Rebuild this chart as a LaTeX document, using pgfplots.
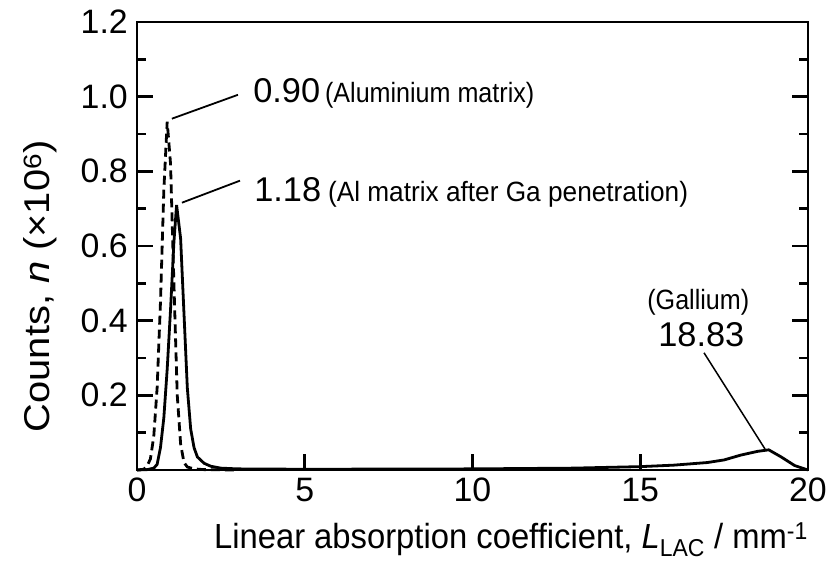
\documentclass[border=0pt]{standalone}
\usepackage{pgfplots}
\pgfplotsset{compat=1.18}
\usepackage{fontspec}
\setmainfont{Liberation Sans}
\begin{document}
\begin{tikzpicture}
\begin{axis}[
  scale only axis, width=671bp, height=448bp,
  xmin=0, xmax=20, ymin=0, ymax=1.2,
  axis line style={line width=2.7bp},
  every tick/.style={line width=2.7bp, black},
  tick align=inside,
  major tick length=16bp, minor tick length=9bp,
  xtick={0,5,10,15,20}, xtick pos=bottom,
  ytick={0.2,0.4,0.6,0.8,1.0,1.2}, ytick pos=both,
  minor ytick={0.1,0.3,0.5,0.7,0.9,1.1},
  yticklabel={\pgfmathprintnumber[fixed,fixed zerofill,precision=1]{\tick}},
  yticklabel style={anchor=east, inner sep=0pt, xshift=-9bp, font=\fontsize{34}{37}\selectfont},
  xticklabel style={anchor=north, inner sep=0pt, yshift=-8bp, font=\fontsize{34}{37}\selectfont},
  /pgf/number format/assume math mode=true,
  clip=false,
]
\coordinate (bl) at (rel axis cs:0,0);
\coordinate (tr) at (rel axis cs:1,1);
% Aluminium matrix (dashed)
\addplot[line width=2.8bp, dash pattern=on 9bp off 5bp, black] coordinates {
(0,0) (0.2,0.002) (0.3,0.01) (0.4,0.03) (0.5,0.09) (0.6,0.22) (0.7,0.45) (0.8,0.75) (0.9,0.933)
(1.0,0.82) (1.1,0.5) (1.2,0.2) (1.3,0.07) (1.4,0.02) (1.5,0.008) (1.7,0.003) (2.0,0.001) (3.0,0.0)
};
% Al matrix after Ga penetration (solid)
\addplot[line width=2.8bp, black] coordinates {
(0,0) (0.3,0.001) (0.5,0.005) (0.6,0.015) (0.7,0.06) (0.8,0.14) (0.9,0.27) (1.0,0.43) (1.1,0.61) (1.18,0.71)
(1.3,0.62) (1.4,0.42) (1.5,0.22) (1.6,0.11) (1.7,0.06) (1.8,0.035) (2.0,0.018) (2.2,0.01) (2.5,0.005)
(3,0.003) (5,0.002) (10,0.003) (13,0.005) (15,0.009) (16,0.013) (17,0.02) (17.5,0.027) (18,0.04)
(18.5,0.05) (18.83,0.054) (19.2,0.035) (19.6,0.012) (20,0.0)
};
\draw[line width=1.8bp] (axis cs:1.04,0.941) -- (axis cs:3.01,1.005);
\draw[line width=1.8bp] (axis cs:1.34,0.716) -- (axis cs:3.07,0.775);
\draw[line width=1.5bp] (axis cs:16.9,0.314) -- (axis cs:18.72,0.056);
\node[anchor=base west, inner sep=0pt, font=\fontsize{34.5}{38}\selectfont] at (axis cs:3.46,0.984) {0.90};
\node[anchor=base west, inner sep=0pt, font=\fontsize{28}{31}\selectfont] at (axis cs:5.60,0.984) {\scalebox{0.9}[1]{(Aluminium matrix)}};
\node[anchor=base west, inner sep=0pt, font=\fontsize{34.5}{38}\selectfont] at (axis cs:3.49,0.718) {1.18};
\node[anchor=base west, inner sep=0pt, font=\fontsize{28}{31}\selectfont] at (axis cs:5.69,0.718) {\scalebox{0.94}[1]{(Al matrix after Ga penetration)}};
\node[anchor=base, inner sep=0pt, font=\fontsize{34.5}{38}\selectfont] at (axis cs:16.82,0.33) {18.83};
\node[anchor=base, inner sep=0pt, font=\fontsize{28}{31}\selectfont] at (axis cs:16.73,0.429) {\scalebox{0.9}[1]{(Gallium)}};
% axis labels
\node[anchor=base east, inner sep=0pt, font=\fontsize{35}{38}\selectfont] at ([yshift=-78bp]rel axis cs:1,0) {\scalebox{0.94}[1]{Linear absorption coefficient, \textit{L}\textsubscript{LAC} / mm\textsuperscript{-1}}};
\node[rotate=90, anchor=center, inner sep=0pt, font=\fontsize{40}{44}\selectfont] at ([xshift=-97bp]rel axis cs:0,0.41) {\scalebox{1}[0.9]{Counts, \textit{n} (×10\textsuperscript{6})}};
\end{axis}
\pgfresetboundingbox
\path ([shift={(-137bp,-94bp)}]bl) rectangle ([shift={(23bp,22bp)}]tr);
\end{tikzpicture}
\end{document}
